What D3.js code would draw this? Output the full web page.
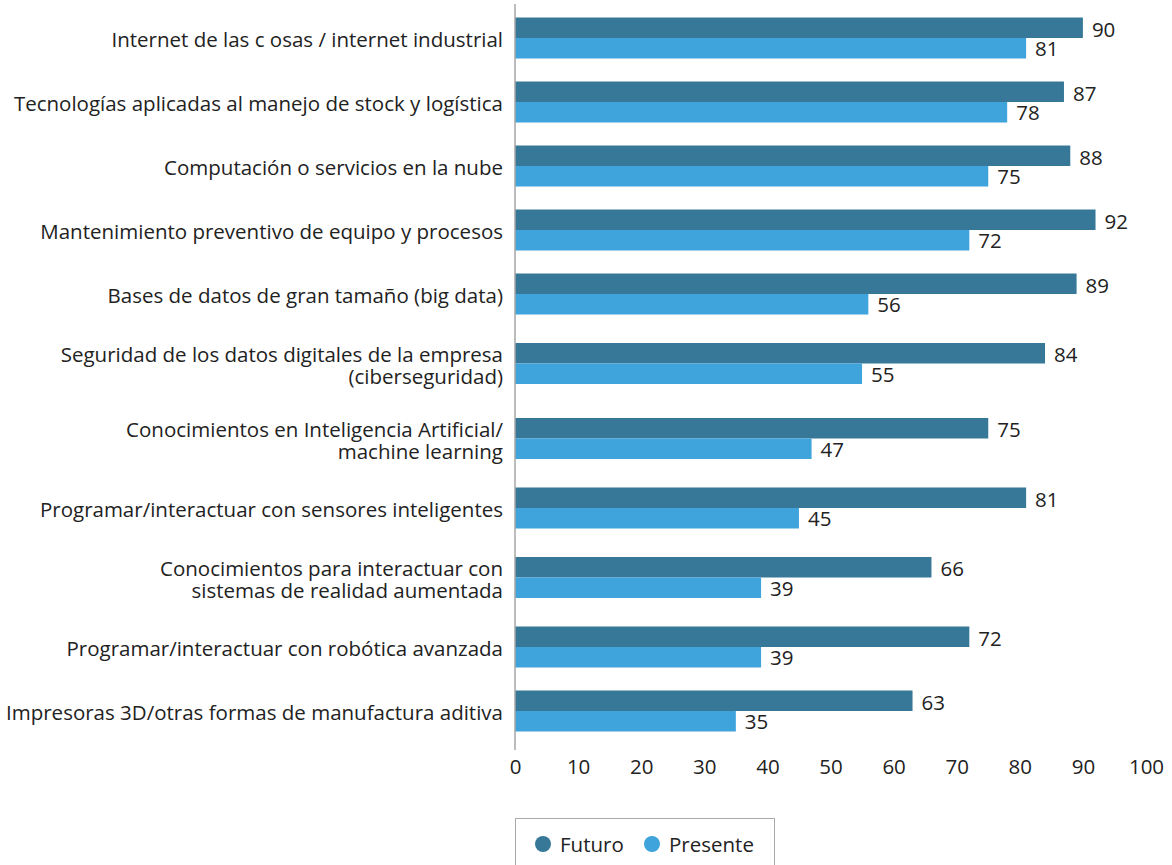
<!DOCTYPE html>
<html>
<head>
<meta charset="utf-8">
<script src="https://cdn.jsdelivr.net/npm/d3@7"></script>
<style>
  body { margin: 0; background: #fff; }
  svg { display: block; font-family: "Open Sans", "Noto Sans", sans-serif; }
</style>
</head>
<body>
<svg id="chart" width="1172" height="865"></svg>
<script>
// Category labels (line breaks mark where a label wraps)
const categories = [
  "Internet de las c osas / internet industrial",
  "Tecnologías aplicadas al manejo de stock y logística",
  "Computación o servicios en la nube",
  "Mantenimiento preventivo de equipo y procesos",
  "Bases de datos de gran tamaño (big data)",
  "Seguridad de los datos digitales de la empresa\n(ciberseguridad)",
  "Conocimientos en Inteligencia Artificial/\nmachine learning",
  "Programar/interactuar con sensores inteligentes",
  "Conocimientos para interactuar con\nsistemas de realidad aumentada",
  "Programar/interactuar con robótica avanzada",
  "Impresoras 3D/otras formas de manufactura aditiva"
];
const futuro   = [90, 87, 88, 92, 89, 84, 75, 81, 66, 72, 63];
const presente = [81, 78, 75, 72, 56, 55, 47, 45, 39, 39, 35];
const seriesNames = ["Futuro", "Presente"];
const xTicks = [0, 10, 20, 30, 40, 50, 60, 70, 80, 90, 100];

const colors = { Futuro: "#377899", Presente: "#40a4dc" };
const fs = 20.5;

const svg = d3.select("#chart");
const x = d3.scaleLinear().domain([0, 100]).range([515, 1146]);

// Row centres: rows whose label wraps onto two lines get a little more room
const lines = categories.map(c => c.split("\n"));
const rowH = n => (n > 1 ? 75 : 64);
const centers = [];
lines.forEach((l, i) => {
  if (i === 0) centers.push(38);
  else centers.push(centers[i - 1] + (rowH(lines[i - 1].length) + rowH(l.length)) / 2);
});
const barH = 20.5;

const rows = categories.map((c, i) => ({
  lines: lines[i], cy: centers[i], futuro: futuro[i], presente: presente[i]
}));

// Bars
const g = svg.append("g");
rows.forEach(r => {
  g.append("rect")
    .attr("x", x(0)).attr("y", r.cy - barH)
    .attr("width", x(r.futuro) - x(0)).attr("height", barH)
    .attr("fill", colors.Futuro);
  g.append("rect")
    .attr("x", x(0)).attr("y", r.cy)
    .attr("width", x(r.presente) - x(0)).attr("height", barH)
    .attr("fill", colors.Presente);
  g.append("text")
    .attr("x", x(r.futuro) + 9).attr("y", r.cy - barH / 2 + 2)
    .attr("dy", "0.35em").attr("font-size", fs).attr("fill", "#222")
    .text(r.futuro);
  g.append("text")
    .attr("x", x(r.presente) + 9).attr("y", r.cy + barH / 2 + 1)
    .attr("dy", "0.35em").attr("font-size", fs).attr("fill", "#222")
    .text(r.presente);
  // Category label, right-aligned against the axis; one text per line
  const n = r.lines.length;
  r.lines.forEach((ln, k) => {
    g.append("text")
      .attr("text-anchor", "end").attr("font-size", fs).attr("fill", "#222")
      .attr("x", 503)
      .attr("y", r.cy + 2 + (k - (n - 1) / 2) * 22)
      .attr("dy", "0.35em")
      .text(ln);
  });
});

// Vertical baseline
svg.append("line")
  .attr("x1", x(0)).attr("x2", x(0))
  .attr("y1", 4).attr("y2", 750)
  .attr("stroke", "#a6a6a6").attr("stroke-width", 1.5);

// Bottom axis (labels only)
const xAxis = d3.axisBottom(x).tickValues(xTicks).tickSize(0).tickPadding(0);
const ax = svg.append("g").attr("transform", "translate(0,759)").call(xAxis);
ax.select(".domain").remove();
ax.selectAll("text")
  .attr("font-family", "\"Open Sans\", \"Noto Sans\", sans-serif")
  .attr("font-size", fs).attr("fill", "#222");

// Legend
const lg = svg.append("g");
lg.append("rect")
  .attr("x", 515.5).attr("y", 818.5).attr("width", 259).attr("height", 60)
  .attr("fill", "none").attr("stroke", "#aaa").attr("stroke-width", 1);
const legendX = [543, 652];
seriesNames.forEach((s, i) => {
  lg.append("circle").attr("cx", legendX[i]).attr("cy", 844).attr("r", 8)
    .attr("fill", colors[s]);
  lg.append("text").attr("x", legendX[i] + 17).attr("y", 845)
    .attr("dy", "0.35em").attr("font-size", fs).attr("fill", "#222")
    .text(s);
});
</script>
</body>
</html>
